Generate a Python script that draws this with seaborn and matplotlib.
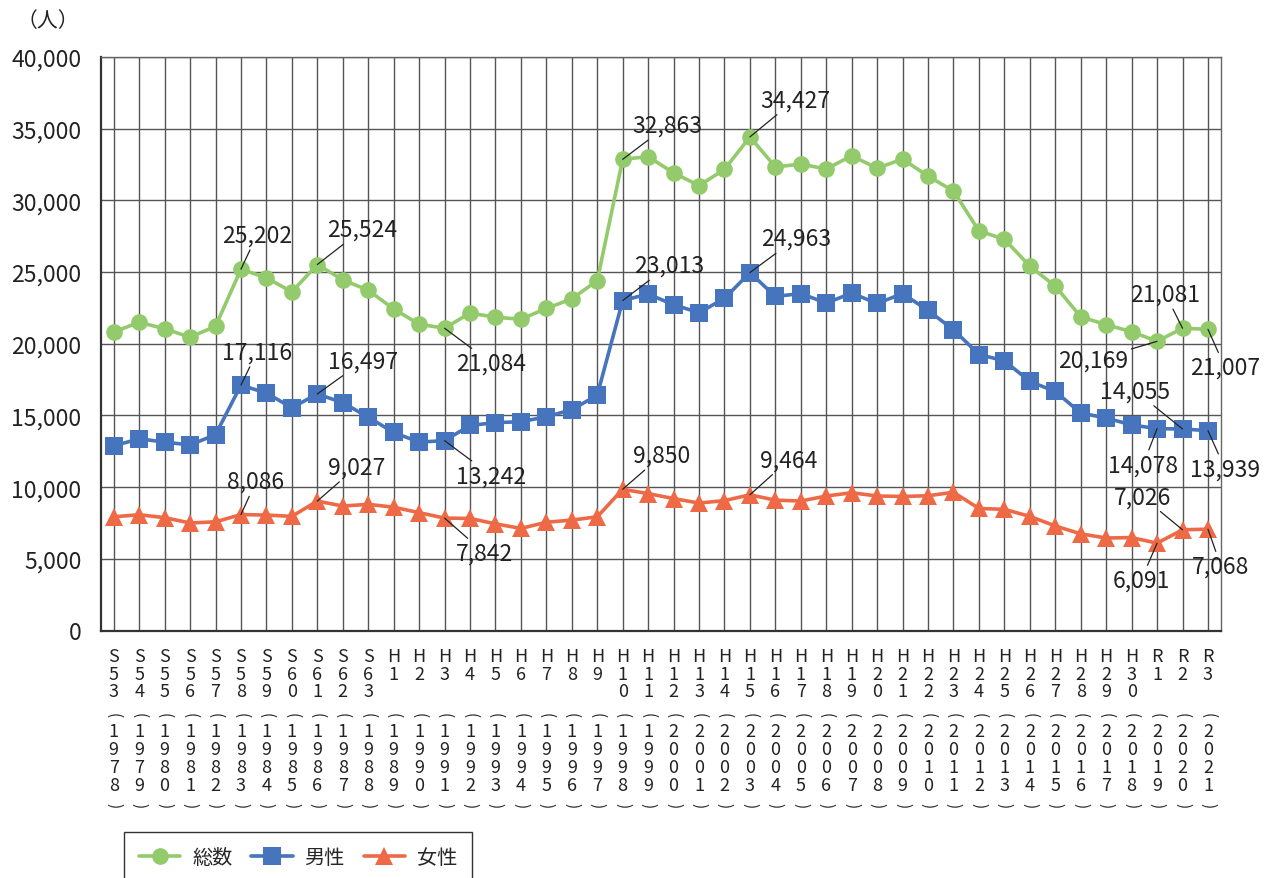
import matplotlib
matplotlib.use("Agg")
import matplotlib.pyplot as plt
import seaborn as sns
import numpy as np
import pandas as pd

# ---------------- data ----------------
eras = ["S53", "S54", "S55", "S56", "S57", "S58", "S59", "S60", "S61", "S62", "S63",
        "H1", "H2", "H3", "H4", "H5", "H6", "H7", "H8", "H9", "H10",
        "H11", "H12", "H13", "H14", "H15", "H16", "H17", "H18", "H19", "H20",
        "H21", "H22", "H23", "H24", "H25", "H26", "H27", "H28", "H29", "H30",
        "R1", "R2", "R3"]
years = [1978, 1979, 1980, 1981, 1982, 1983, 1984, 1985, 1986, 1987, 1988,
         1989, 1990, 1991, 1992, 1993, 1994, 1995, 1996, 1997, 1998,
         1999, 2000, 2001, 2002, 2003, 2004, 2005, 2006, 2007, 2008,
         2009, 2010, 2011, 2012, 2013, 2014, 2015, 2016, 2017, 2018,
         2019, 2020, 2021]
total = [20810, 21505, 21040, 20460, 21215, 25202, 24600, 23620, 25524, 24460, 23730,
         22430, 21360, 21084, 22140, 21850, 21710, 22460, 23130, 24400, 32863,
         33050, 31920, 31030, 32160, 34427, 32330, 32530, 32190, 33110, 32240,
         32880, 31690, 30650, 27870, 27290, 25410, 24020, 21880, 21330, 20840,
         20169, 21081, 21007]
male = [12880, 13370, 13140, 12940, 13660, 17116, 16560, 15540, 16497, 15890, 14880,
        13810, 13140, 13242, 14300, 14500, 14560, 14910, 15400, 16410, 23013,
        23470, 22720, 22170, 23160, 24963, 23300, 23500, 22840, 23530, 22810,
        23500, 22320, 20980, 19250, 18810, 17370, 16670, 15170, 14820, 14340,
        14078, 14055, 13939]
female = [7930, 8075, 7870, 7500, 7580, 8086, 8050, 7960, 9027, 8680, 8800,
          8600, 8220, 7842, 7815, 7440, 7120, 7550, 7700, 7930, 9850,
          9550, 9200, 8890, 9060, 9464, 9090, 9030, 9380, 9610, 9380,
          9350, 9400, 9640, 8510, 8450, 7960, 7290, 6740, 6450, 6480,
          6091, 7026, 7068]
series_names = ["総数", "男性", "女性"]
unit_label = "（人）"
labeled_idx = [5, 8, 13, 20, 25, 41, 42, 43]

# ---------------- style ----------------
sns.set_style("white")
plt.rcParams["font.family"] = ["Noto Sans CJK JP", "DejaVu Sans"]

W, H = 1279, 879
AX_BOTTOM = 631.5
fig = plt.figure(figsize=(W / 100, H / 100), dpi=100)
ax = fig.add_axes([101 / W, 1 - AX_BOTTOM / H, (1220.7 - 101) / W, (AX_BOTTOM - 58) / H])

colors = ["#93CB6C", "#4675BD", "#EE6A46"]
markers = ["o", "s", "^"]
msizes = [12, 12.5, 13.5]
idx = np.arange(len(eras))
df = pd.DataFrame({"idx": idx, "総数": total, "男性": male, "女性": female})

for name, c, m, ms in zip(series_names, colors, markers, msizes):
    sns.lineplot(data=df, x="idx", y=name, ax=ax, color=c, marker=m, markersize=ms,
                 markeredgewidth=0, linewidth=2.6, label=name, zorder=3)

ax.set_xlim(-0.5, len(eras) - 0.5)
ax.set_ylim(0, 40000)
ax.set_yticks(np.arange(0, 40001, 5000))
ax.set_yticklabels([f"{v:,}" for v in range(0, 40001, 5000)], fontsize=16.5, color="#222222")
ax.set_xticks(idx)
ax.set_xticklabels([""] * len(eras))
ax.tick_params(axis="x", length=0)
ax.tick_params(axis="y", length=0, pad=14)
ax.set_xlabel("")
ax.set_ylabel("")

# vertical category labels: era, (year) written top-to-bottom, one character per row
era_rows = [657, 674.5, 692]
year_rows = [732, 750, 768, 786]
open_row, close_row = 715.5, 805.5
lab_kw = dict(xycoords=("data", "axes fraction"), textcoords="offset pixels",
              ha="center", va="center", color="#222222", annotation_clip=False)
for i, (e, y) in enumerate(zip(eras, years)):
    for ch, yy in zip(e, era_rows):
        ax.annotate(ch, xy=(i, 0), xytext=(0, AX_BOTTOM - yy), fontsize=13, **lab_kw)
    for ch, yy in zip(str(y), year_rows):
        ax.annotate(ch, xy=(i, 0), xytext=(0, AX_BOTTOM - yy), fontsize=13, **lab_kw)
    ax.annotate("(", xy=(i, 0), xytext=(0, AX_BOTTOM - open_row), fontsize=11,
                rotation=-90, **lab_kw)
    ax.annotate(")", xy=(i, 0), xytext=(0, AX_BOTTOM - close_row), fontsize=11,
                rotation=-90, **lab_kw)

ax.grid(True, color="#555555", linewidth=1.0)
ax.set_axisbelow(True)
for s in ["top", "right"]:
    ax.spines[s].set_color("#666666")
    ax.spines[s].set_linewidth(1.0)
for s in ["left", "bottom"]:
    ax.spines[s].set_color("#333333")
    ax.spines[s].set_linewidth(1.6)

# value labels with leader lines (offsets in pixels: dx, dy with dy positive = up)
offsets = {
    "総数": [(16, 34), (45, 35), (47, -35), (45, 34), (45, 37), (-64, -19), (-17, 34), (17, -38)],
    "男性": [(16, 33), (46, 33), (47, -35), (46, 35), (46, 34), (-14, -36), (-47, 38), (17, -38)],
    "女性": [(15, 33), (39, 34), (40, -35), (39, 34), (39, 35), (-16, -37), (-40, 33), (13, -37)],
}
values = {"総数": total, "男性": male, "女性": female}
for name in series_names:
    for i, (dx, dy) in zip(labeled_idx, offsets[name]):
        v = values[name][i]
        ax.annotate(f"{v:,}", xy=(i, v), xytext=(dx, dy), textcoords="offset pixels",
                    ha="center", va="center", fontsize=16.5, color="#222222", zorder=5,
                    annotation_clip=False,
                    arrowprops=dict(arrowstyle="-", color="#222222", lw=0.9,
                                    shrinkA=0, shrinkB=0))

ax.get_legend().remove()
handles, labels = ax.get_legend_handles_labels()
fig.legend(handles, labels, loc="upper left", bbox_to_anchor=(124 / W, 1 - 833 / H),
           ncol=3, frameon=True, fancybox=False, edgecolor="#333333", framealpha=1,
           fontsize=14.5, handlelength=2.05, handletextpad=0.58, columnspacing=0.95,
           borderpad=0.75, borderaxespad=0)

fig.text(48 / W, 1 - 21 / H, unit_label, ha="center", va="center", fontsize=15, color="#222222")

fig.savefig("out.png", dpi=100)
